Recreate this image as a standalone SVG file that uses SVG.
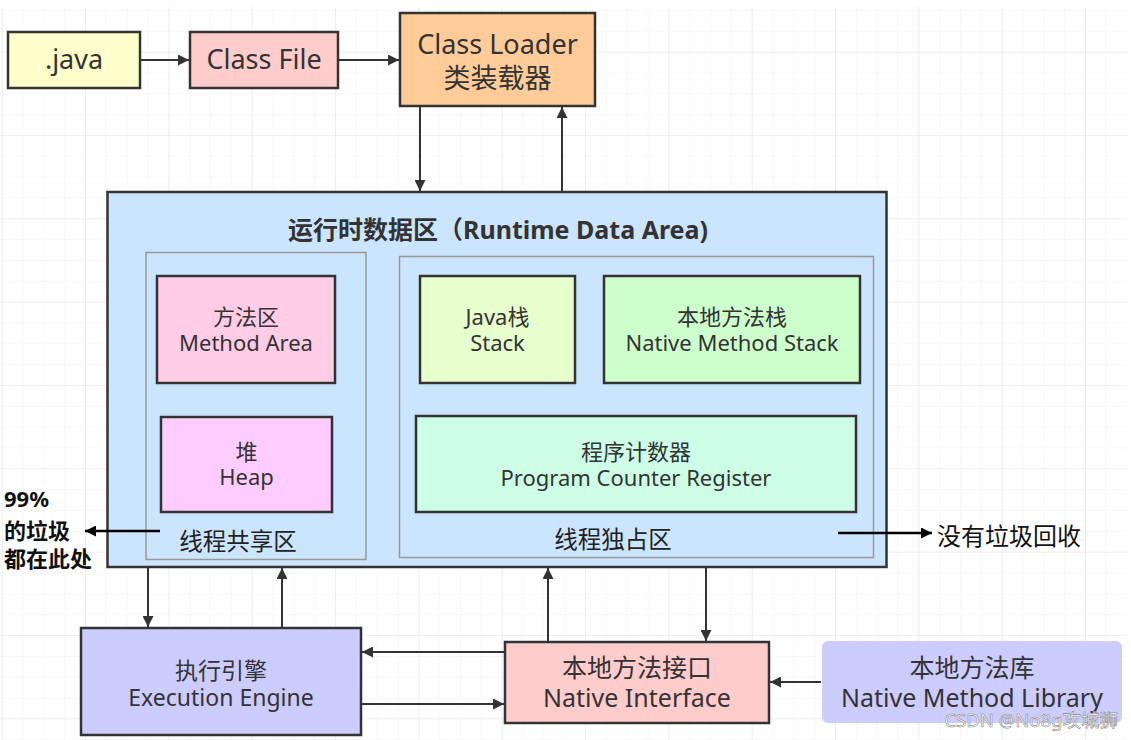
<svg xmlns="http://www.w3.org/2000/svg" width="1131" height="740" viewBox="0 0 1131 740">
<defs>
<pattern id="minor" x="1.7" y="10" width="20.833" height="20.833" patternUnits="userSpaceOnUse">
<path d="M0,0 V20.833 M0,0 H20.833" fill="none" stroke="#f2f2f2" stroke-width="1"/>
</pattern>
<pattern id="major" x="1.7" y="51.7" width="83.333" height="83.333" patternUnits="userSpaceOnUse">
<path d="M0,0 V83.333 M0,0 H83.333" fill="none" stroke="#e6e6e6" stroke-width="1.2"/>
</pattern>
<marker id="arr" viewBox="0 0 10 10" refX="10" refY="5" markerWidth="14" markerHeight="11" markerUnits="userSpaceOnUse" orient="auto">
<path d="M0,0 L10,5 L0,10 z" fill="#333"/>
</marker>
<marker id="arrk" viewBox="0 0 10 10" refX="10" refY="5" markerWidth="13" markerHeight="11" markerUnits="userSpaceOnUse" orient="auto">
<path d="M0,0 L10,5 L0,10 z" fill="#000"/>
</marker>
</defs>
<style>
text{font-family:"Noto Sans","Open Sans","Noto Sans CJK SC",sans-serif;fill:#333;text-anchor:middle}
.box{stroke:#333;stroke-width:2.5}
.sub{fill:none;stroke:#999;stroke-width:1.5}
.top{font-size:27px}
.big{font-size:25px}
.mid{font-size:23px}
.sm{font-size:22px}
.area{font-size:23.5px;fill:#222}
.note{font-size:24px;fill:#111}
.bold{font-weight:bold;fill:#111;text-anchor:start;font-size:22px}
.conn{fill:none;stroke:#333;stroke-width:2;marker-end:url(#arr)}
.conk{fill:none;stroke:#000;stroke-width:2.5;marker-end:url(#arrk)}
</style>
<rect x="0" y="0" width="1131" height="740" fill="#fff"/>
<rect x="0" y="7" width="1127" height="733" fill="url(#minor)"/>
<rect x="0" y="7" width="1127" height="733" fill="url(#major)"/>

<g id="java">
<rect class="box" x="8" y="32" width="132" height="56" fill="#ffffcc"/>
<text class="top" x="74" y="69">.java</text>
</g>
<g id="classfile">
<rect class="box" x="190" y="32" width="148" height="56" fill="#ffcccc"/>
<text class="top" x="264" y="69">Class File</text>
</g>
<g id="classloader">
<rect class="box" x="400" y="13" width="195" height="93" fill="#ffcc99"/>
<text class="top" x="497.5" y="54">Class Loader</text>
<text class="top" x="497.5" y="88">类装载器</text>
</g>

<g id="runtime">
<rect class="box" x="107.5" y="192" width="779" height="375" fill="#cce5ff"/>
<text x="498" y="239" style="font-size:25px;font-weight:bold;fill:#333">运行时数据区（Runtime Data Area)</text>
</g>
<g id="shared">
<rect class="sub" x="146" y="252.5" width="220" height="307"/>
<text class="area" x="238" y="550">线程共享区</text>
</g>
<g id="private">
<rect class="sub" x="399.5" y="256.5" width="474" height="301"/>
<text class="area" x="613" y="548">线程独占区</text>
</g>
<g id="methodarea">
<rect class="box" x="157" y="276" width="178" height="107" fill="#ffcce6"/>
<text class="sm" x="246" y="325">方法区</text>
<text class="sm" x="246" y="351">Method Area</text>
</g>
<g id="heap">
<rect class="box" x="161" y="417" width="171" height="95" fill="#ffccff"/>
<text class="sm" x="246.5" y="460">堆</text>
<text class="sm" x="246.5" y="485">Heap</text>
</g>
<g id="javastack">
<rect class="box" x="420" y="276" width="155" height="107" fill="#e6ffcc"/>
<text class="sm" x="497.5" y="325">Java栈</text>
<text class="sm" x="497.5" y="351">Stack</text>
</g>
<g id="nativestack">
<rect class="box" x="604" y="276" width="256" height="107" fill="#ccffcc"/>
<text class="sm" x="732" y="325">本地方法栈</text>
<text class="sm" x="732" y="351">Native Method Stack</text>
</g>
<g id="pc">
<rect class="box" x="416" y="416" width="440" height="96" fill="#ccffe6"/>
<text class="sm" x="636" y="460">程序计数器</text>
<text class="sm" x="636" y="486">Program Counter Register</text>
</g>

<g id="engine">
<rect class="box" x="81" y="628" width="280" height="107" fill="#ccccff"/>
<text class="mid" x="221" y="679">执行引擎</text>
<text class="mid" x="221" y="706">Execution Engine</text>
</g>
<g id="nativeinterface">
<rect class="box" x="505" y="642" width="264" height="81" fill="#ffcccc"/>
<text class="big" x="637" y="677">本地方法接口</text>
<text class="big" x="637" y="707">Native Interface</text>
</g>
<g id="nativelib">
<rect x="822" y="641" width="300" height="82" rx="6" fill="#ccccff"/>
<text class="big" x="972" y="677">本地方法库</text>
<text class="big" x="972" y="707">Native Method Library</text>
</g>

<g id="notes">
<text class="bold" x="4" y="507">99%</text>
<text class="bold" x="4" y="539">的垃圾</text>
<text class="bold" x="4" y="567">都在此处</text>
<text class="note" x="937" y="545" style="text-anchor:start">没有垃圾回收</text>
</g>

<g id="connectors">
<path class="conn" d="M141,60 H189"/>
<path class="conn" d="M339,60 H399"/>
<path class="conn" d="M420,107 V191"/>
<path class="conn" d="M562,191 V107"/>
<path class="conn" d="M148,568 V627"/>
<path class="conn" d="M282,627 V568"/>
<path class="conn" d="M706,568 V641"/>
<path class="conn" d="M548,641 V568"/>
<path class="conn" d="M504,652 H362"/>
<path class="conn" d="M362,704 H504"/>
<path class="conn" d="M821,682 H770"/>
<path class="conk" d="M160,531 H85"/>
<path class="conk" d="M838,533 H932"/>
</g>

<text x="1118" y="727" style="font-size:18.5px;fill:#fff;stroke:#8a8a8a;stroke-width:0.6;text-anchor:end">CSDN @No8g攻城狮</text>
</svg>
